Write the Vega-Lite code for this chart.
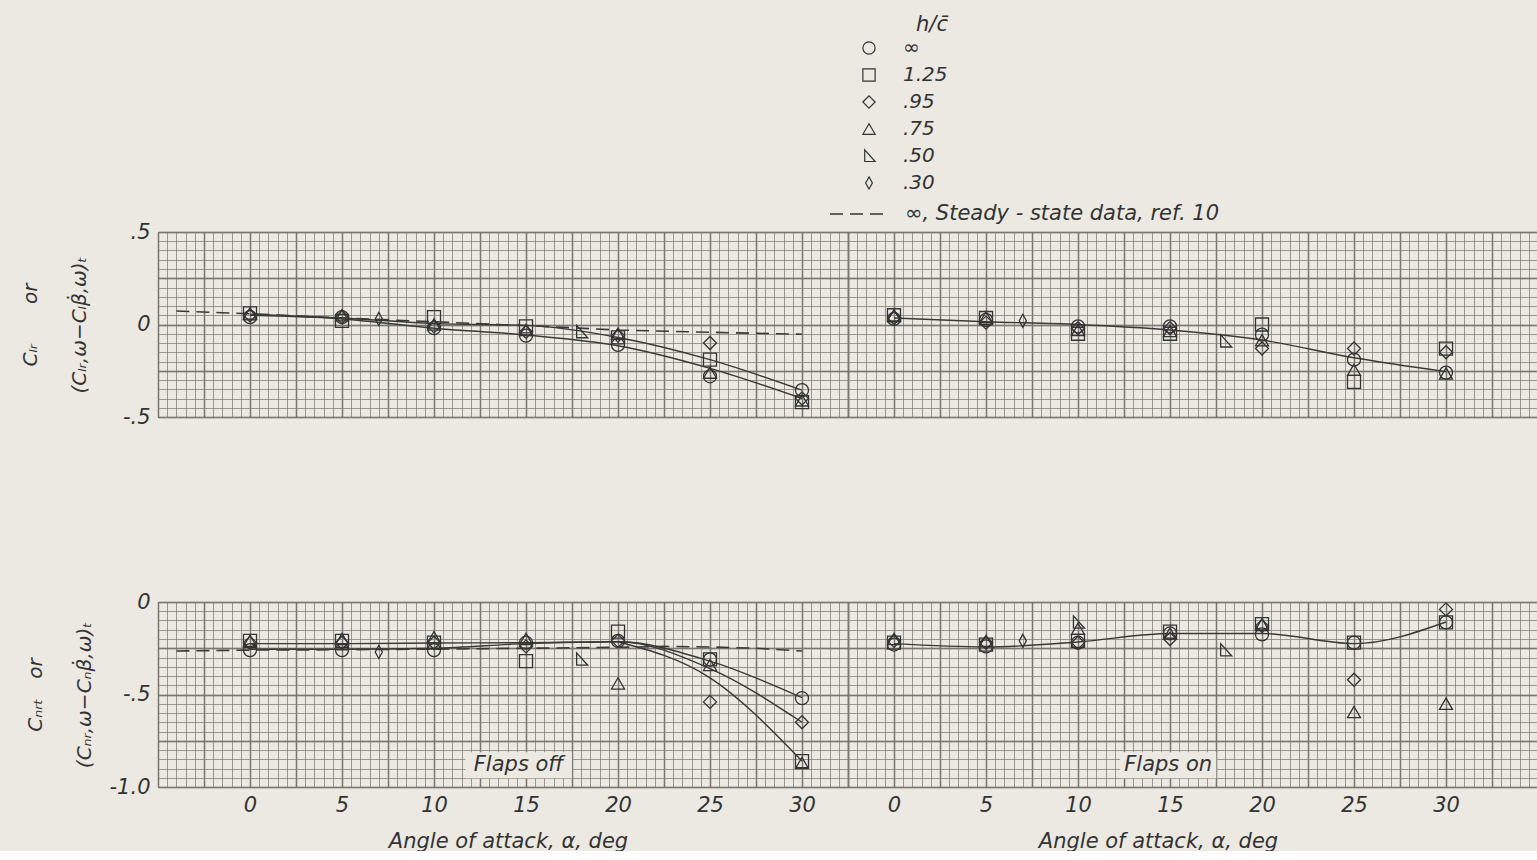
{
  "$schema": "https://vega.github.io/schema/vega-lite/v6.json",
  "background": "#ece9e2",
  "padding": {"left": 20, "top": 14, "right": 0, "bottom": 0},
  "autosize": {"type": "pad"},
  "spacing": 164,
  "config": {
    "view": {"stroke": null},
    "font": "DejaVu Sans",
    "axis": {"labelFont": "DejaVu Sans", "titleFont": "DejaVu Sans", "domain": false, "ticks": false, "labels": false, "grid": false},
    "legend": {"labelFont": "DejaVu Sans", "titleFont": "DejaVu Sans"}
  },
  "datasets": {
    "pts": [
      {"c":"Cl","f":"off","a":0,"v":0.04,"h":"∞"},{"c":"Cl","f":"off","a":0,"v":0.06,"h":"1.25"},{"c":"Cl","f":"off","a":0,"v":0.05,"h":".95"},{"c":"Cl","f":"off","a":0,"v":0.06,"h":".75"},
      {"c":"Cl","f":"off","a":5,"v":0.04,"h":"∞"},{"c":"Cl","f":"off","a":5,"v":0.02,"h":"1.25"},{"c":"Cl","f":"off","a":5,"v":0.04,"h":".95"},{"c":"Cl","f":"off","a":5,"v":0.05,"h":".75"},
      {"c":"Cl","f":"off","a":7,"v":0.03,"h":".30"},
      {"c":"Cl","f":"off","a":10,"v":-0.02,"h":"∞"},{"c":"Cl","f":"off","a":10,"v":0.04,"h":"1.25"},{"c":"Cl","f":"off","a":10,"v":-0.01,"h":".95"},{"c":"Cl","f":"off","a":10,"v":0.0,"h":".75"},
      {"c":"Cl","f":"off","a":15,"v":-0.06,"h":"∞"},{"c":"Cl","f":"off","a":15,"v":-0.01,"h":"1.25"},{"c":"Cl","f":"off","a":15,"v":-0.04,"h":".95"},{"c":"Cl","f":"off","a":15,"v":-0.03,"h":".75"},
      {"c":"Cl","f":"off","a":18,"v":-0.04,"h":".50"},
      {"c":"Cl","f":"off","a":20,"v":-0.11,"h":"∞"},{"c":"Cl","f":"off","a":20,"v":-0.07,"h":"1.25"},{"c":"Cl","f":"off","a":20,"v":-0.06,"h":".95"},{"c":"Cl","f":"off","a":20,"v":-0.05,"h":".75"},
      {"c":"Cl","f":"off","a":25,"v":-0.28,"h":"∞"},{"c":"Cl","f":"off","a":25,"v":-0.19,"h":"1.25"},{"c":"Cl","f":"off","a":25,"v":-0.10,"h":".95"},{"c":"Cl","f":"off","a":25,"v":-0.26,"h":".75"},
      {"c":"Cl","f":"off","a":30,"v":-0.355,"h":"∞"},{"c":"Cl","f":"off","a":30,"v":-0.42,"h":"1.25"},{"c":"Cl","f":"off","a":30,"v":-0.40,"h":".95"},{"c":"Cl","f":"off","a":30,"v":-0.41,"h":".75"},
      {"c":"Cl","f":"on","a":0,"v":0.03,"h":"∞"},{"c":"Cl","f":"on","a":0,"v":0.05,"h":"1.25"},{"c":"Cl","f":"on","a":0,"v":0.035,"h":".95"},{"c":"Cl","f":"on","a":0,"v":0.05,"h":".75"},
      {"c":"Cl","f":"on","a":5,"v":0.025,"h":"∞"},{"c":"Cl","f":"on","a":5,"v":0.035,"h":"1.25"},{"c":"Cl","f":"on","a":5,"v":0.01,"h":".95"},{"c":"Cl","f":"on","a":5,"v":0.04,"h":".75"},
      {"c":"Cl","f":"on","a":7,"v":0.02,"h":".30"},
      {"c":"Cl","f":"on","a":10,"v":-0.01,"h":"∞"},{"c":"Cl","f":"on","a":10,"v":-0.05,"h":"1.25"},{"c":"Cl","f":"on","a":10,"v":-0.02,"h":".95"},{"c":"Cl","f":"on","a":10,"v":-0.03,"h":".75"},
      {"c":"Cl","f":"on","a":15,"v":-0.01,"h":"∞"},{"c":"Cl","f":"on","a":15,"v":-0.05,"h":"1.25"},{"c":"Cl","f":"on","a":15,"v":-0.02,"h":".95"},{"c":"Cl","f":"on","a":15,"v":-0.035,"h":".75"},
      {"c":"Cl","f":"on","a":18,"v":-0.09,"h":".50"},
      {"c":"Cl","f":"on","a":20,"v":-0.055,"h":"∞"},{"c":"Cl","f":"on","a":20,"v":0.0,"h":"1.25"},{"c":"Cl","f":"on","a":20,"v":-0.13,"h":".95"},{"c":"Cl","f":"on","a":20,"v":-0.085,"h":".75"},
      {"c":"Cl","f":"on","a":25,"v":-0.19,"h":"∞"},{"c":"Cl","f":"on","a":25,"v":-0.31,"h":"1.25"},{"c":"Cl","f":"on","a":25,"v":-0.13,"h":".95"},{"c":"Cl","f":"on","a":25,"v":-0.245,"h":".75"},
      {"c":"Cl","f":"on","a":30,"v":-0.26,"h":"∞"},{"c":"Cl","f":"on","a":30,"v":-0.13,"h":"1.25"},{"c":"Cl","f":"on","a":30,"v":-0.15,"h":".95"},{"c":"Cl","f":"on","a":30,"v":-0.265,"h":".75"},
      {"c":"Cn","f":"off","a":0,"v":-0.26,"h":"∞"},{"c":"Cn","f":"off","a":0,"v":-0.21,"h":"1.25"},{"c":"Cn","f":"off","a":0,"v":-0.22,"h":".95"},{"c":"Cn","f":"off","a":0,"v":-0.21,"h":".75"},
      {"c":"Cn","f":"off","a":5,"v":-0.26,"h":"∞"},{"c":"Cn","f":"off","a":5,"v":-0.21,"h":"1.25"},{"c":"Cn","f":"off","a":5,"v":-0.22,"h":".95"},{"c":"Cn","f":"off","a":5,"v":-0.20,"h":".75"},
      {"c":"Cn","f":"off","a":7,"v":-0.27,"h":".30"},
      {"c":"Cn","f":"off","a":10,"v":-0.26,"h":"∞"},{"c":"Cn","f":"off","a":10,"v":-0.22,"h":"1.25"},{"c":"Cn","f":"off","a":10,"v":-0.22,"h":".95"},{"c":"Cn","f":"off","a":10,"v":-0.19,"h":".75"},
      {"c":"Cn","f":"off","a":15,"v":-0.22,"h":"∞"},{"c":"Cn","f":"off","a":15,"v":-0.32,"h":"1.25"},{"c":"Cn","f":"off","a":15,"v":-0.24,"h":".95"},{"c":"Cn","f":"off","a":15,"v":-0.20,"h":".75"},
      {"c":"Cn","f":"off","a":18,"v":-0.31,"h":".50"},
      {"c":"Cn","f":"off","a":20,"v":-0.21,"h":"∞"},{"c":"Cn","f":"off","a":20,"v":-0.16,"h":"1.25"},{"c":"Cn","f":"off","a":20,"v":-0.21,"h":".95"},{"c":"Cn","f":"off","a":20,"v":-0.44,"h":".75"},
      {"c":"Cn","f":"off","a":25,"v":-0.31,"h":"∞"},{"c":"Cn","f":"off","a":25,"v":-0.31,"h":"1.25"},{"c":"Cn","f":"off","a":25,"v":-0.54,"h":".95"},{"c":"Cn","f":"off","a":25,"v":-0.34,"h":".75"},
      {"c":"Cn","f":"off","a":30,"v":-0.52,"h":"∞"},{"c":"Cn","f":"off","a":30,"v":-0.86,"h":"1.25"},{"c":"Cn","f":"off","a":30,"v":-0.65,"h":".95"},{"c":"Cn","f":"off","a":30,"v":-0.87,"h":".75"},
      {"c":"Cn","f":"on","a":0,"v":-0.23,"h":"∞"},{"c":"Cn","f":"on","a":0,"v":-0.22,"h":"1.25"},{"c":"Cn","f":"on","a":0,"v":-0.21,"h":".95"},{"c":"Cn","f":"on","a":0,"v":-0.20,"h":".75"},
      {"c":"Cn","f":"on","a":5,"v":-0.24,"h":"∞"},{"c":"Cn","f":"on","a":5,"v":-0.23,"h":"1.25"},{"c":"Cn","f":"on","a":5,"v":-0.22,"h":".95"},{"c":"Cn","f":"on","a":5,"v":-0.21,"h":".75"},
      {"c":"Cn","f":"on","a":7,"v":-0.21,"h":".30"},
      {"c":"Cn","f":"on","a":10,"v":-0.22,"h":"∞"},{"c":"Cn","f":"on","a":10,"v":-0.21,"h":"1.25"},{"c":"Cn","f":"on","a":10,"v":-0.22,"h":".95"},{"c":"Cn","f":"on","a":10,"v":-0.145,"h":".75"},{"c":"Cn","f":"on","a":10,"v":-0.11,"h":".50"},
      {"c":"Cn","f":"on","a":15,"v":-0.17,"h":"∞"},{"c":"Cn","f":"on","a":15,"v":-0.16,"h":"1.25"},{"c":"Cn","f":"on","a":15,"v":-0.20,"h":".95"},{"c":"Cn","f":"on","a":15,"v":-0.17,"h":".75"},
      {"c":"Cn","f":"on","a":18,"v":-0.26,"h":".50"},
      {"c":"Cn","f":"on","a":20,"v":-0.175,"h":"∞"},{"c":"Cn","f":"on","a":20,"v":-0.12,"h":"1.25"},{"c":"Cn","f":"on","a":20,"v":-0.13,"h":".95"},{"c":"Cn","f":"on","a":20,"v":-0.12,"h":".75"},
      {"c":"Cn","f":"on","a":25,"v":-0.22,"h":"∞"},{"c":"Cn","f":"on","a":25,"v":-0.22,"h":"1.25"},{"c":"Cn","f":"on","a":25,"v":-0.42,"h":".95"},{"c":"Cn","f":"on","a":25,"v":-0.595,"h":".75"},
      {"c":"Cn","f":"on","a":30,"v":-0.11,"h":"∞"},{"c":"Cn","f":"on","a":30,"v":-0.11,"h":"1.25"},{"c":"Cn","f":"on","a":30,"v":-0.04,"h":".95"},{"c":"Cn","f":"on","a":30,"v":-0.55,"h":".75"}
    ],
    "fair": [
      {"c":"Cl","f":"off","k":"A","a":0,"v":0.055},{"c":"Cl","f":"off","k":"A","a":5,"v":0.035},{"c":"Cl","f":"off","k":"A","a":10,"v":0.005},{"c":"Cl","f":"off","k":"A","a":15,"v":-0.005},{"c":"Cl","f":"off","k":"A","a":20,"v":-0.07},{"c":"Cl","f":"off","k":"A","a":25,"v":-0.19},{"c":"Cl","f":"off","k":"A","a":30,"v":-0.355},
      {"c":"Cl","f":"off","k":"B","a":0,"v":0.05},{"c":"Cl","f":"off","k":"B","a":5,"v":0.03},{"c":"Cl","f":"off","k":"B","a":10,"v":-0.02},{"c":"Cl","f":"off","k":"B","a":15,"v":-0.057},{"c":"Cl","f":"off","k":"B","a":20,"v":-0.115},{"c":"Cl","f":"off","k":"B","a":25,"v":-0.237},{"c":"Cl","f":"off","k":"B","a":30,"v":-0.40},
      {"c":"Cl","f":"on","k":"A","a":0,"v":0.035},{"c":"Cl","f":"on","k":"A","a":5,"v":0.015},{"c":"Cl","f":"on","k":"A","a":10,"v":0.0},{"c":"Cl","f":"on","k":"A","a":15,"v":-0.03},{"c":"Cl","f":"on","k":"A","a":20,"v":-0.084},{"c":"Cl","f":"on","k":"A","a":25,"v":-0.18},{"c":"Cl","f":"on","k":"A","a":30,"v":-0.255},
      {"c":"Cn","f":"off","k":"A","a":0,"v":-0.255},{"c":"Cn","f":"off","k":"A","a":5,"v":-0.255},{"c":"Cn","f":"off","k":"A","a":10,"v":-0.25},{"c":"Cn","f":"off","k":"A","a":15,"v":-0.225},{"c":"Cn","f":"off","k":"A","a":20,"v":-0.215},{"c":"Cn","f":"off","k":"A","a":25,"v":-0.32},{"c":"Cn","f":"off","k":"A","a":30,"v":-0.517},
      {"c":"Cn","f":"off","k":"B","a":0,"v":-0.225},{"c":"Cn","f":"off","k":"B","a":5,"v":-0.225},{"c":"Cn","f":"off","k":"B","a":10,"v":-0.222},{"c":"Cn","f":"off","k":"B","a":15,"v":-0.22},{"c":"Cn","f":"off","k":"B","a":20,"v":-0.215},{"c":"Cn","f":"off","k":"B","a":25,"v":-0.36},{"c":"Cn","f":"off","k":"B","a":30,"v":-0.65},
      {"c":"Cn","f":"off","k":"C","a":20,"v":-0.215},{"c":"Cn","f":"off","k":"C","a":25,"v":-0.41},{"c":"Cn","f":"off","k":"C","a":30,"v":-0.86},
      {"c":"Cn","f":"on","k":"A","a":0,"v":-0.225},{"c":"Cn","f":"on","k":"A","a":5,"v":-0.243},{"c":"Cn","f":"on","k":"A","a":10,"v":-0.216},{"c":"Cn","f":"on","k":"A","a":15,"v":-0.17},{"c":"Cn","f":"on","k":"A","a":20,"v":-0.17},{"c":"Cn","f":"on","k":"A","a":25,"v":-0.225},{"c":"Cn","f":"on","k":"A","a":30,"v":-0.108}
    ],
    "steady": [
      {"c":"Cl","s":"∞, Steady - state data, ref. 10","a":-4,"v":0.073},{"c":"Cl","s":"∞, Steady - state data, ref. 10","a":0,"v":0.058},{"c":"Cl","s":"∞, Steady - state data, ref. 10","a":5,"v":0.035},{"c":"Cl","s":"∞, Steady - state data, ref. 10","a":10,"v":0.015},{"c":"Cl","s":"∞, Steady - state data, ref. 10","a":13.5,"v":0.0},{"c":"Cl","s":"∞, Steady - state data, ref. 10","a":16,"v":-0.01},{"c":"Cl","s":"∞, Steady - state data, ref. 10","a":20,"v":-0.03},{"c":"Cl","s":"∞, Steady - state data, ref. 10","a":25,"v":-0.042},{"c":"Cl","s":"∞, Steady - state data, ref. 10","a":30,"v":-0.053},
      {"c":"Cn","s":"∞, Steady - state data, ref. 10","a":-4,"v":-0.265},{"c":"Cn","s":"∞, Steady - state data, ref. 10","a":0,"v":-0.26},{"c":"Cn","s":"∞, Steady - state data, ref. 10","a":5,"v":-0.258},{"c":"Cn","s":"∞, Steady - state data, ref. 10","a":10,"v":-0.255},{"c":"Cn","s":"∞, Steady - state data, ref. 10","a":15,"v":-0.25},{"c":"Cn","s":"∞, Steady - state data, ref. 10","a":20,"v":-0.245},{"c":"Cn","s":"∞, Steady - state data, ref. 10","a":22.5,"v":-0.24},{"c":"Cn","s":"∞, Steady - state data, ref. 10","a":25,"v":-0.243},{"c":"Cn","s":"∞, Steady - state data, ref. 10","a":27.5,"v":-0.25},{"c":"Cn","s":"∞, Steady - state data, ref. 10","a":30,"v":-0.265}
    ],
    "notes": [
      {"f":"off","a":14.6,"v":-0.883,"t":"Flaps off"},
      {"f":"on","a":14.9,"v":-0.883,"t":"Flaps on"}
    ]
  },
  "vconcat": [
    {
      "spacing": 0,
      "hconcat": [
        {
          "width": 690, "height": 185,
          "resolve": {"axis": {"x": "independent", "y": "independent"}},
          "layer": [
            {"mark": {"type": "rule", "color": "#2b2a28", "strokeWidth": 2.4}, "encoding": {"x": {"datum": 0, "type": "quantitative", "scale": {"domain": [-5, 32.5], "nice": false, "zero": false}, "axis": null}}},
            {"mark": {"type": "rule", "color": "#2b2a28", "strokeWidth": 2.4}, "encoding": {"y": {"datum": 0, "type": "quantitative", "scale": {"domain": [-0.5, 0.5], "nice": false, "zero": false}, "axis": null}}},
            {
              "data": {"name": "fair"}, "transform": [{"filter": "datum.c == 'Cl' && datum.f == 'off'"}],
              "mark": {"type": "line", "interpolate": "monotone", "color": "#3a3936", "strokeWidth": 1.4},
              "encoding": {
                "x": {"field": "a", "type": "quantitative", "scale": {"domain": [-5, 32.5], "nice": false, "zero": false}, "axis": {"orient": "bottom", "grid": true, "gridColor": "#54524d", "gridWidth": 1.4, "values": [-5,-2.5,0,2.5,5,7.5,10,12.5,15,17.5,20,22.5,25,27.5,30,32.5], "title": null}},
                "y": {"field": "v", "type": "quantitative", "scale": {"domain": [-0.5, 0.5], "nice": false, "zero": false}, "axis": {"orient": "left", "grid": true, "gridColor": "#54524d", "gridWidth": 1.4, "values": [-0.5,-0.25,0,0.25,0.5], "title": null}},
                "detail": {"field": "k", "type": "nominal"}
              }
            },
            {
              "data": {"name": "steady"}, "transform": [{"filter": "datum.c == 'Cl'"}],
              "mark": {"type": "line", "color": "#3a3936", "strokeWidth": 1.6},
              "encoding": {
                "x": {"field": "a", "type": "quantitative", "scale": {"domain": [-5, 32.5], "nice": false, "zero": false}, "axis": null},
                "y": {"field": "v", "type": "quantitative", "scale": {"domain": [-0.5, 0.5], "nice": false, "zero": false}, "axis": {"orient": "left", "values": [0.5, 0, -0.5], "labels": true, "labelExpr": "datum.value == 0 ? '0' : datum.value > 0 ? '.5' : '-.5'", "labelFontSize": 21, "labelFontStyle": "italic", "labelColor": "#333", "labelPadding": 8, "labelOverlap": false, "title": ["Cₗᵣ\u2003\u2003or", "(Cₗᵣ,ω−Cₗβ̇,ω)ₜ"], "titleFontSize": 20, "titleFontStyle": "italic", "titleFontWeight": "normal", "titleColor": "#333", "titleLineHeight": 49, "titlePadding": 33}},
                "strokeDash": {"field": "s", "type": "nominal", "scale": {"domain": ["∞, Steady - state data, ref. 10"], "range": [[13, 7]]}, "legend": {"title": null, "orient": "none", "legendX": 671, "legendY": -49, "symbolType": "stroke", "symbolSize": 3600, "symbolStrokeWidth": 1.6, "symbolStrokeColor": "#333", "labelFontSize": 21, "labelFontStyle": "italic", "labelColor": "#333", "labelOffset": 14, "labelLimit": 500, "padding": 0}}
              }
            },
            {
              "data": {"name": "pts"}, "transform": [{"filter": "datum.c == 'Cl' && datum.f == 'off'"}],
              "mark": {"type": "point", "filled": false, "size": 170, "strokeWidth": 1.3, "color": "#333", "opacity": 1},
              "encoding": {
                "x": {"field": "a", "type": "quantitative", "scale": {"domain": [-5, 32.5], "nice": false, "zero": false}, "axis": {"orient": "bottom", "grid": true, "gridColor": "#85827b", "gridWidth": 0.8, "values": [-5,-4.5,-4,-3.5,-3,-2.5,-2,-1.5,-1,-0.5,0,0.5,1,1.5,2,2.5,3,3.5,4,4.5,5,5.5,6,6.5,7,7.5,8,8.5,9,9.5,10,10.5,11,11.5,12,12.5,13,13.5,14,14.5,15,15.5,16,16.5,17,17.5,18,18.5,19,19.5,20,20.5,21,21.5,22,22.5,23,23.5,24,24.5,25,25.5,26,26.5,27,27.5,28,28.5,29,29.5,30,30.5,31,31.5,32,32.5], "title": null}},
                "y": {"field": "v", "type": "quantitative", "scale": {"domain": [-0.5, 0.5], "nice": false, "zero": false}, "axis": {"orient": "left", "grid": true, "gridColor": "#85827b", "gridWidth": 0.8, "values": [-0.5,-0.45,-0.4,-0.35,-0.3,-0.25,-0.2,-0.15,-0.1,-0.05,0,0.05,0.1,0.15,0.2,0.25,0.3,0.35,0.4,0.45,0.5], "title": null}},
                "shape": {"field": "h", "type": "nominal", "scale": {"domain": ["∞","1.25",".95",".75",".50",".30"], "range": ["circle","square","diamond","triangle-up","M -0.7 -1 L -0.7 0.9 L 1 0.9 Z","M 0 -1 L 0.55 0 L 0 1 L -0.55 0 Z"]}, "legend": {"title": "h/c̄", "orient": "none", "legendX": 701, "legendY": -218, "titleFontSize": 21, "titleFontStyle": "italic", "titleFontWeight": "normal", "titleColor": "#333", "titleAnchor": "end", "titlePadding": 3, "labelFontSize": 20, "labelFontStyle": "italic", "labelColor": "#333", "labelOffset": 24, "symbolSize": 150, "symbolStrokeColor": "#333", "symbolStrokeWidth": 1.2, "symbolFillColor": "transparent", "rowPadding": 7, "padding": 0}}
              }
            }
          ]
        },
        {
          "width": 690, "height": 185,
          "resolve": {"axis": {"x": "independent", "y": "independent"}},
          "layer": [
            {"mark": {"type": "rule", "color": "#2b2a28", "strokeWidth": 2.4}, "encoding": {"x": {"datum": 0, "type": "quantitative", "scale": {"domain": [-2.5, 35], "nice": false, "zero": false}, "axis": null}}},
            {"mark": {"type": "rule", "color": "#2b2a28", "strokeWidth": 2.4}, "encoding": {"y": {"datum": 0, "type": "quantitative", "scale": {"domain": [-0.5, 0.5], "nice": false, "zero": false}, "axis": null}}},
            {
              "data": {"name": "fair"}, "transform": [{"filter": "datum.c == 'Cl' && datum.f == 'on'"}],
              "mark": {"type": "line", "interpolate": "monotone", "color": "#3a3936", "strokeWidth": 1.4},
              "encoding": {
                "x": {"field": "a", "type": "quantitative", "scale": {"domain": [-2.5, 35], "nice": false, "zero": false}, "axis": {"orient": "bottom", "grid": true, "gridColor": "#54524d", "gridWidth": 1.4, "values": [-2.5,0,2.5,5,7.5,10,12.5,15,17.5,20,22.5,25,27.5,30,32.5,35], "title": null}},
                "y": {"field": "v", "type": "quantitative", "scale": {"domain": [-0.5, 0.5], "nice": false, "zero": false}, "axis": {"orient": "left", "grid": true, "gridColor": "#54524d", "gridWidth": 1.4, "values": [-0.5,-0.25,0,0.25,0.5], "title": null}},
                "detail": {"field": "k", "type": "nominal"}
              }
            },
            {
              "data": {"name": "pts"}, "transform": [{"filter": "datum.c == 'Cl' && datum.f == 'on'"}],
              "mark": {"type": "point", "filled": false, "size": 170, "strokeWidth": 1.3, "color": "#333", "opacity": 1},
              "encoding": {
                "x": {"field": "a", "type": "quantitative", "scale": {"domain": [-2.5, 35], "nice": false, "zero": false}, "axis": {"orient": "bottom", "grid": true, "gridColor": "#85827b", "gridWidth": 0.8, "values": [-2.5,-2,-1.5,-1,-0.5,0,0.5,1,1.5,2,2.5,3,3.5,4,4.5,5,5.5,6,6.5,7,7.5,8,8.5,9,9.5,10,10.5,11,11.5,12,12.5,13,13.5,14,14.5,15,15.5,16,16.5,17,17.5,18,18.5,19,19.5,20,20.5,21,21.5,22,22.5,23,23.5,24,24.5,25,25.5,26,26.5,27,27.5,28,28.5,29,29.5,30,30.5,31,31.5,32,32.5,33,33.5,34,34.5,35], "title": null}},
                "y": {"field": "v", "type": "quantitative", "scale": {"domain": [-0.5, 0.5], "nice": false, "zero": false}, "axis": {"orient": "left", "grid": true, "gridColor": "#85827b", "gridWidth": 0.8, "values": [-0.5,-0.45,-0.4,-0.35,-0.3,-0.25,-0.2,-0.15,-0.1,-0.05,0,0.05,0.1,0.15,0.2,0.25,0.3,0.35,0.4,0.45,0.5], "title": null}},
                "shape": {"field": "h", "type": "nominal", "scale": {"domain": ["∞","1.25",".95",".75",".50",".30"], "range": ["circle","square","diamond","triangle-up","M -0.7 -1 L -0.7 0.9 L 1 0.9 Z","M 0 -1 L 0.55 0 L 0 1 L -0.55 0 Z"]}, "legend": {"title": "h/c̄", "orient": "none", "legendX": 701, "legendY": -218, "titleFontSize": 21, "titleFontStyle": "italic", "titleFontWeight": "normal", "titleColor": "#333", "titleAnchor": "end", "titlePadding": 3, "labelFontSize": 20, "labelFontStyle": "italic", "labelColor": "#333", "labelOffset": 24, "symbolSize": 150, "symbolStrokeColor": "#333", "symbolStrokeWidth": 1.2, "symbolFillColor": "transparent", "rowPadding": 7, "padding": 0}}
              }
            }
          ]
        }
      ]
    },
    {
      "spacing": 0,
      "hconcat": [
        {
          "width": 690, "height": 185,
          "resolve": {"axis": {"x": "independent", "y": "independent"}},
          "layer": [
            {"mark": {"type": "rule", "color": "#2b2a28", "strokeWidth": 2.4}, "encoding": {"x": {"datum": 0, "type": "quantitative", "scale": {"domain": [-5, 32.5], "nice": false, "zero": false}, "axis": null}}},
            {"mark": {"type": "rule", "color": "#2b2a28", "strokeWidth": 2.4}, "encoding": {"y": {"datum": 0, "type": "quantitative", "scale": {"domain": [-1, 0], "nice": false, "zero": false}, "axis": null}}},
            {
              "data": {"name": "fair"}, "transform": [{"filter": "datum.c == 'Cn' && datum.f == 'off'"}],
              "mark": {"type": "line", "interpolate": "monotone", "color": "#3a3936", "strokeWidth": 1.4},
              "encoding": {
                "x": {"field": "a", "type": "quantitative", "scale": {"domain": [-5, 32.5], "nice": false, "zero": false}, "axis": {"orient": "bottom", "grid": true, "gridColor": "#54524d", "gridWidth": 1.4, "values": [-5,-2.5,0,2.5,5,7.5,10,12.5,15,17.5,20,22.5,25,27.5,30,32.5], "title": null}},
                "y": {"field": "v", "type": "quantitative", "scale": {"domain": [-1, 0], "nice": false, "zero": false}, "axis": {"orient": "left", "grid": true, "gridColor": "#54524d", "gridWidth": 1.4, "values": [-1,-0.75,-0.5,-0.25,0], "title": null}},
                "detail": {"field": "k", "type": "nominal"}
              }
            },
            {
              "data": {"name": "steady"}, "transform": [{"filter": "datum.c == 'Cn'"}],
              "mark": {"type": "line", "color": "#3a3936", "strokeWidth": 1.6},
              "encoding": {
                "x": {"field": "a", "type": "quantitative", "scale": {"domain": [-5, 32.5], "nice": false, "zero": false}, "axis": null},
                "y": {"field": "v", "type": "quantitative", "scale": {"domain": [-1, 0], "nice": false, "zero": false}, "axis": {"orient": "left", "values": [0, -0.5, -1], "labels": true, "labelExpr": "datum.value == 0 ? '0' : datum.value == -0.5 ? '-.5' : '-1.0'", "labelFontSize": 21, "labelFontStyle": "italic", "labelColor": "#333", "labelPadding": 8, "labelOverlap": false, "title": ["Cₙᵣₜ\u2003or", "(Cₙᵣ,ω−Cₙβ̇,ω)ₜ"], "titleFontSize": 20, "titleFontStyle": "italic", "titleFontWeight": "normal", "titleColor": "#333", "titleLineHeight": 49, "titlePadding": 15}},
                "strokeDash": {"field": "s", "type": "nominal", "scale": {"domain": ["∞, Steady - state data, ref. 10"], "range": [[13, 7]]}, "legend": {"title": null, "orient": "none", "legendX": 671, "legendY": -49, "symbolType": "stroke", "symbolSize": 3600, "symbolStrokeWidth": 1.6, "symbolStrokeColor": "#333", "labelFontSize": 21, "labelFontStyle": "italic", "labelColor": "#333", "labelOffset": 14, "labelLimit": 500, "padding": 0}}
              }
            },
            {
              "data": {"name": "notes"}, "transform": [{"filter": "datum.f == 'off'"}],
              "mark": {"type": "point", "shape": "M -4.1 -1 L 4.1 -1 L 4.1 1 L -4.1 1 Z", "size": 676, "filled": true, "color": "#ece9e2", "opacity": 1, "strokeWidth": 0},
              "encoding": {
                "x": {"field": "a", "type": "quantitative", "scale": {"domain": [-5, 32.5], "nice": false, "zero": false}, "axis": null},
                "y": {"field": "v", "type": "quantitative", "scale": {"domain": [-1, 0], "nice": false, "zero": false}, "axis": null}
              }
            },
            {
              "data": {"name": "notes"}, "transform": [{"filter": "datum.f == 'off'"}],
              "mark": {"type": "text", "fontSize": 21, "fontStyle": "italic", "color": "#333"},
              "encoding": {
                "x": {"field": "a", "type": "quantitative", "scale": {"domain": [-5, 32.5], "nice": false, "zero": false}, "axis": {"orient": "bottom", "values": [0,5,10,15,20,25,30], "labels": true, "labelFontSize": 21, "labelFontStyle": "italic", "labelColor": "#333", "labelPadding": 7, "labelFlush": false, "labelOverlap": false, "title": "Angle of attack, α, deg", "titleX": 350, "titleFontSize": 21, "titleFontStyle": "italic", "titleFontWeight": "normal", "titleColor": "#333", "titlePadding": 15}},
                "y": {"field": "v", "type": "quantitative", "scale": {"domain": [-1, 0], "nice": false, "zero": false}, "axis": null},
                "text": {"field": "t"}
              }
            },
            {
              "data": {"name": "pts"}, "transform": [{"filter": "datum.c == 'Cn' && datum.f == 'off'"}],
              "mark": {"type": "point", "filled": false, "size": 170, "strokeWidth": 1.3, "color": "#333", "opacity": 1},
              "encoding": {
                "x": {"field": "a", "type": "quantitative", "scale": {"domain": [-5, 32.5], "nice": false, "zero": false}, "axis": {"orient": "bottom", "grid": true, "gridColor": "#85827b", "gridWidth": 0.8, "values": [-5,-4.5,-4,-3.5,-3,-2.5,-2,-1.5,-1,-0.5,0,0.5,1,1.5,2,2.5,3,3.5,4,4.5,5,5.5,6,6.5,7,7.5,8,8.5,9,9.5,10,10.5,11,11.5,12,12.5,13,13.5,14,14.5,15,15.5,16,16.5,17,17.5,18,18.5,19,19.5,20,20.5,21,21.5,22,22.5,23,23.5,24,24.5,25,25.5,26,26.5,27,27.5,28,28.5,29,29.5,30,30.5,31,31.5,32,32.5], "title": null}},
                "y": {"field": "v", "type": "quantitative", "scale": {"domain": [-1, 0], "nice": false, "zero": false}, "axis": {"orient": "left", "grid": true, "gridColor": "#85827b", "gridWidth": 0.8, "values": [-1,-0.95,-0.9,-0.85,-0.8,-0.75,-0.7,-0.65,-0.6,-0.55,-0.5,-0.45,-0.4,-0.35,-0.3,-0.25,-0.2,-0.15,-0.1,-0.05,0], "title": null}},
                "shape": {"field": "h", "type": "nominal", "scale": {"domain": ["∞","1.25",".95",".75",".50",".30"], "range": ["circle","square","diamond","triangle-up","M -0.7 -1 L -0.7 0.9 L 1 0.9 Z","M 0 -1 L 0.55 0 L 0 1 L -0.55 0 Z"]}, "legend": {"title": "h/c̄", "orient": "none", "legendX": 701, "legendY": -218, "titleFontSize": 21, "titleFontStyle": "italic", "titleFontWeight": "normal", "titleColor": "#333", "titleAnchor": "end", "titlePadding": 3, "labelFontSize": 20, "labelFontStyle": "italic", "labelColor": "#333", "labelOffset": 24, "symbolSize": 150, "symbolStrokeColor": "#333", "symbolStrokeWidth": 1.2, "symbolFillColor": "transparent", "rowPadding": 7, "padding": 0}}
              }
            }
          ]
        },
        {
          "width": 690, "height": 185,
          "resolve": {"axis": {"x": "independent", "y": "independent"}},
          "layer": [
            {"mark": {"type": "rule", "color": "#2b2a28", "strokeWidth": 2.4}, "encoding": {"x": {"datum": 0, "type": "quantitative", "scale": {"domain": [-2.5, 35], "nice": false, "zero": false}, "axis": null}}},
            {"mark": {"type": "rule", "color": "#2b2a28", "strokeWidth": 2.4}, "encoding": {"y": {"datum": 0, "type": "quantitative", "scale": {"domain": [-1, 0], "nice": false, "zero": false}, "axis": null}}},
            {
              "data": {"name": "fair"}, "transform": [{"filter": "datum.c == 'Cn' && datum.f == 'on'"}],
              "mark": {"type": "line", "interpolate": "monotone", "color": "#3a3936", "strokeWidth": 1.4},
              "encoding": {
                "x": {"field": "a", "type": "quantitative", "scale": {"domain": [-2.5, 35], "nice": false, "zero": false}, "axis": {"orient": "bottom", "grid": true, "gridColor": "#54524d", "gridWidth": 1.4, "values": [-2.5,0,2.5,5,7.5,10,12.5,15,17.5,20,22.5,25,27.5,30,32.5,35], "title": null}},
                "y": {"field": "v", "type": "quantitative", "scale": {"domain": [-1, 0], "nice": false, "zero": false}, "axis": {"orient": "left", "grid": true, "gridColor": "#54524d", "gridWidth": 1.4, "values": [-1,-0.75,-0.5,-0.25,0], "title": null}},
                "detail": {"field": "k", "type": "nominal"}
              }
            },
            {
              "data": {"name": "notes"}, "transform": [{"filter": "datum.f == 'on'"}],
              "mark": {"type": "point", "shape": "M -3.7 -1 L 3.7 -1 L 3.7 1 L -3.7 1 Z", "size": 676, "filled": true, "color": "#ece9e2", "opacity": 1, "strokeWidth": 0},
              "encoding": {
                "x": {"field": "a", "type": "quantitative", "scale": {"domain": [-2.5, 35], "nice": false, "zero": false}, "axis": null},
                "y": {"field": "v", "type": "quantitative", "scale": {"domain": [-1, 0], "nice": false, "zero": false}, "axis": null}
              }
            },
            {
              "data": {"name": "notes"}, "transform": [{"filter": "datum.f == 'on'"}],
              "mark": {"type": "text", "fontSize": 21, "fontStyle": "italic", "color": "#333"},
              "encoding": {
                "x": {"field": "a", "type": "quantitative", "scale": {"domain": [-2.5, 35], "nice": false, "zero": false}, "axis": {"orient": "bottom", "values": [0,5,10,15,20,25,30], "labels": true, "labelFontSize": 21, "labelFontStyle": "italic", "labelColor": "#333", "labelPadding": 7, "labelFlush": false, "labelOverlap": false, "title": "Angle of attack, α, deg", "titleX": 310, "titleFontSize": 21, "titleFontStyle": "italic", "titleFontWeight": "normal", "titleColor": "#333", "titlePadding": 15}},
                "y": {"field": "v", "type": "quantitative", "scale": {"domain": [-1, 0], "nice": false, "zero": false}, "axis": null},
                "text": {"field": "t"}
              }
            },
            {
              "data": {"name": "pts"}, "transform": [{"filter": "datum.c == 'Cn' && datum.f == 'on'"}],
              "mark": {"type": "point", "filled": false, "size": 170, "strokeWidth": 1.3, "color": "#333", "opacity": 1},
              "encoding": {
                "x": {"field": "a", "type": "quantitative", "scale": {"domain": [-2.5, 35], "nice": false, "zero": false}, "axis": {"orient": "bottom", "grid": true, "gridColor": "#85827b", "gridWidth": 0.8, "values": [-2.5,-2,-1.5,-1,-0.5,0,0.5,1,1.5,2,2.5,3,3.5,4,4.5,5,5.5,6,6.5,7,7.5,8,8.5,9,9.5,10,10.5,11,11.5,12,12.5,13,13.5,14,14.5,15,15.5,16,16.5,17,17.5,18,18.5,19,19.5,20,20.5,21,21.5,22,22.5,23,23.5,24,24.5,25,25.5,26,26.5,27,27.5,28,28.5,29,29.5,30,30.5,31,31.5,32,32.5,33,33.5,34,34.5,35], "title": null}},
                "y": {"field": "v", "type": "quantitative", "scale": {"domain": [-1, 0], "nice": false, "zero": false}, "axis": {"orient": "left", "grid": true, "gridColor": "#85827b", "gridWidth": 0.8, "values": [-1,-0.95,-0.9,-0.85,-0.8,-0.75,-0.7,-0.65,-0.6,-0.55,-0.5,-0.45,-0.4,-0.35,-0.3,-0.25,-0.2,-0.15,-0.1,-0.05,0], "title": null}},
                "shape": {"field": "h", "type": "nominal", "scale": {"domain": ["∞","1.25",".95",".75",".50",".30"], "range": ["circle","square","diamond","triangle-up","M -0.7 -1 L -0.7 0.9 L 1 0.9 Z","M 0 -1 L 0.55 0 L 0 1 L -0.55 0 Z"]}, "legend": {"title": "h/c̄", "orient": "none", "legendX": 701, "legendY": -218, "titleFontSize": 21, "titleFontStyle": "italic", "titleFontWeight": "normal", "titleColor": "#333", "titleAnchor": "end", "titlePadding": 3, "labelFontSize": 20, "labelFontStyle": "italic", "labelColor": "#333", "labelOffset": 24, "symbolSize": 150, "symbolStrokeColor": "#333", "symbolStrokeWidth": 1.2, "symbolFillColor": "transparent", "rowPadding": 7, "padding": 0}}
              }
            }
          ]
        }
      ]
    }
  ]
}
